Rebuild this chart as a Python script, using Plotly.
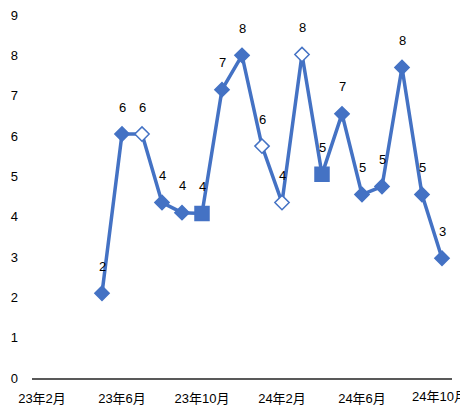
import plotly.graph_objects as go

months = ["23年2月", "23年3月", "23年4月", "23年5月", "23年6月", "23年7月", "23年8月",
          "23年9月", "23年10月", "23年11月", "23年12月", "24年1月", "24年2月", "24年3月",
          "24年4月", "24年5月", "24年6月", "24年7月", "24年8月", "24年9月", "24年10月"]
values = [None, None, None, 2.1, 6.05, 6.05, 4.35, 4.1, 4.08, 7.15, 8.0, 5.75, 4.35,
          8.02, 5.05, 6.55, 4.55, 4.75, 7.7, 4.55, 2.97]
labels = [None, None, None, "2", "6", "6", "4", "4", "4", "7", "8", "6", "4",
          "8", "5", "7", "5", "5", "8", "5", "3"]
symbols = ["diamond"] * 21
symbols[8] = "square"
symbols[14] = "square"
fills = ["#4472C4"] * 21
for i in (5, 11, 12, 13):
    fills[i] = "white"
sizes = [11] * 21
sizes[8] = 14
sizes[14] = 14
tickvals = ["23年2月", "23年6月", "23年10月", "24年2月", "24年6月"]
last_tick = "24年10月"
yticks = [0, 1, 2, 3, 4, 5, 6, 7, 8, 9]

BLUE = "#4472C4"
fig = go.Figure()
fig.add_trace(go.Scatter(
    x=months, y=values, mode="lines+markers",
    line=dict(color=BLUE, width=3.5),
    marker=dict(symbol=symbols, size=sizes, color=fills, opacity=1,
                line=dict(color=BLUE, width=1.5)),
    connectgaps=False, showlegend=False, hoverinfo="skip",
))
for m, v, t in zip(months, values, labels):
    if v is None:
        continue
    fig.add_annotation(x=m, y=v, text=t, showarrow=False, yshift=27,
                       font=dict(size=13, color="#000000"))

# last category label, kept inside the figure like the reference
fig.add_annotation(x=last_tick, xref="x", y=0, yref="paper", text=last_tick,
                   showarrow=False, yanchor="top", yshift=-9, xshift=-3,
                   font=dict(size=13, color="#000000"))

fig.update_layout(
    width=460, height=398,
    margin=dict(l=24, r=16, t=7, b=28),
    paper_bgcolor="white", plot_bgcolor="white",
    font=dict(family="Liberation Sans, Arial, Noto Sans CJK SC", size=13, color="#000000"),
    xaxis=dict(type="category", categoryorder="array", categoryarray=months,
               range=[-0.5, 20.5], tickmode="array", tickvals=tickvals,
               showgrid=False, showline=True, linecolor="#595959", linewidth=1.5,
               ticks="", tickfont=dict(size=13), zeroline=False, automargin=False,
               ticklabelstandoff=8),
    yaxis=dict(range=[0, 9.001], tickmode="array", tickvals=yticks,
               showgrid=False, showline=False, zeroline=False, ticklabeloverflow="allow",
               ticks="", tickfont=dict(size=13), ticklabelstandoff=13, automargin=False),
)
fig.write_html("out.html")
